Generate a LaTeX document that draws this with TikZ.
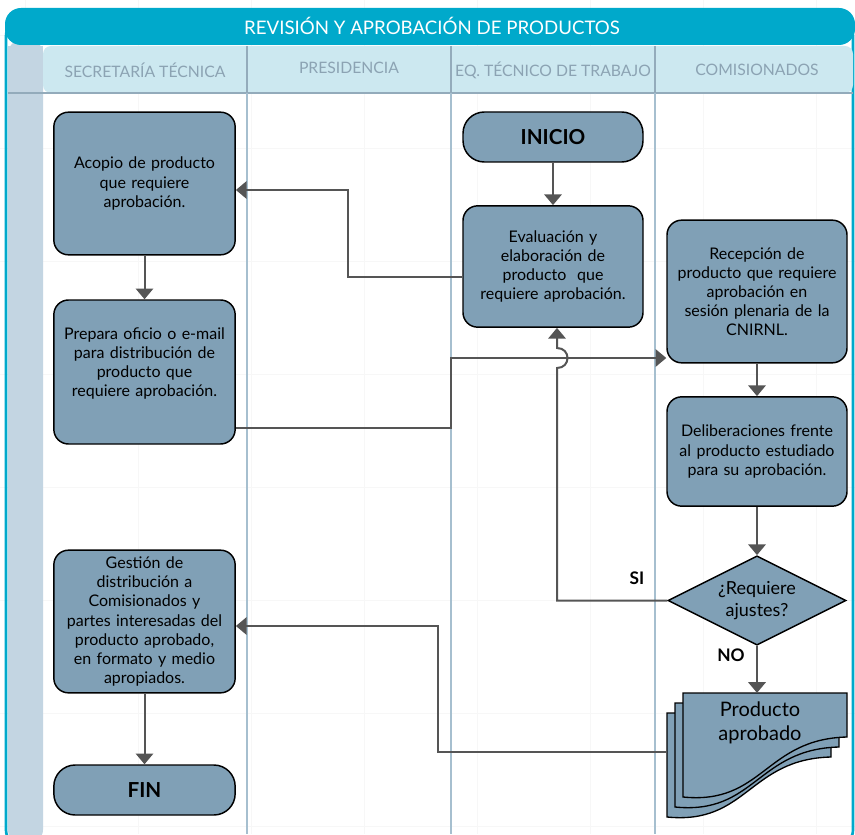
\documentclass[tikz,border=0pt]{standalone}
\usepackage{fontspec}
\setmainfont{Lato}
\usetikzlibrary{shapes.geometric,arrows.meta,calc}

\definecolor{bartitle}{HTML}{00A9CB}
\definecolor{headfill}{HTML}{CCE8F0}
\definecolor{stripfill}{HTML}{C3D5E2}
\definecolor{laneline}{HTML}{A6BFCF}
\definecolor{headline}{HTML}{93ABBB}
\definecolor{lanetext}{HTML}{8CA3B3}
\definecolor{boxfill}{HTML}{80A0B6}
\definecolor{flowgray}{HTML}{555555}
\definecolor{gridgray}{HTML}{F7F7F7}

\tikzset{
  proc/.style={draw=black, line width=1.1pt, fill=boxfill, rounded corners=11pt,
    align=center, inner sep=0pt, text width=132pt,
    font=\fontsize{12}{14.3}\selectfont},
  term/.style={proc, rounded corners=16pt, font=\fontsize{15.5}{17}\selectfont\bfseries},
  decision/.style={diamond, draw=black, line width=1.1pt, fill=boxfill, align=center,
    inner sep=0pt, shape aspect=2, font=\fontsize{13.5}{17}\selectfont},
  flow/.style={draw=flowgray, line width=1.5pt, -{Triangle[width=13pt,length=8pt]}},
  lanelabel/.style={text=lanetext, font=\fontsize{11.8}{13}\selectfont},
  sheet/.style={draw=black, line width=1pt, fill=boxfill},
  flag/.style={font=\fontsize{13}{15}\selectfont\bfseries},
}

\newcommand{\docsheet}[2]{%
  \draw[sheet] (#1,#2) -- ++(164,0) -- ++(0,44)
    .. controls ++(-82,2) and ++(80,8) .. ++(-164,60) -- cycle;}

\begin{document}
\begin{tikzpicture}[x=0.75pt,y=-0.75pt]
  \useasboundingbox (0,0) rectangle (855,834);
  \clip (0,0) rectangle (855,834);
  \fill[white] (0,0) rectangle (855,834);

  % faint page grid
  \foreach \g in {25,138,251,364,477,590,703,816}
    \draw[gridgray, line width=0.6pt] (\g,0) -- (\g,834);
  \foreach \g in {35,148,261,374,487,600,713,826}
    \draw[gridgray, line width=0.6pt] (0,\g) -- (855,\g);

  % frame, left strip and header row
  \draw[bartitle, line width=2pt, rounded corners=12pt] (6,20) rectangle (853,846);
  \fill[stripfill, rounded corners=10pt] (8,40) rectangle (43,843);
  \fill[headfill, rounded corners=6pt] (43,46) rectangle (853,93);
  \fill[stripfill] (8,46) rectangle (43,93);
  \draw[headline, line width=1.8pt] (8,93) -- (853,93);
  \foreach \lx in {247,451,655} {
    \draw[headline, line width=1pt] (\lx,46) -- (\lx,93);
    \draw[laneline, line width=1pt] (\lx,93) -- (\lx,834);
  }
  \fill[bartitle, rounded corners=12pt] (5,8) rectangle (855,45);
  \node[text=white, font=\fontsize{14}{16}\selectfont] (title) at (432,26)
    {REVISIÓN Y APROBACIÓN DE PRODUCTOS};

  % lane names
  \node[lanelabel] (lane1) at (145,70) {SECRETARÍA TÉCNICA};
  \node[lanelabel] (lane2) at (349,68) {PRESIDENCIA};
  \node[lanelabel] (lane3) at (553,70) {EQ. TÉCNICO DE TRABAJO};
  \node[lanelabel] (lane4) at (757,70) {COMISIONADOS};

  % process steps
  \node[proc, minimum width=136pt, minimum height=107pt] (acopio) at (144.5,183.5)
    {Acopio de producto\\ que requiere\\ aprobación.};
  \node[proc, minimum width=136pt, minimum height=108pt] (prepara) at (144.5,372)
    {Prepara oficio o e-mail\\ para distribución de\\ producto que\\ requiere aprobación.\\ \mbox{}};
  \node[proc, minimum width=136pt, minimum height=107pt] (gestion) at (144.5,621.5)
    {Gestión de\\ distribución a\\ Comisionados y\\ partes interesadas del\\ producto aprobado,\\ en formato y medio\\ apropiados.};
  \node[term, minimum width=136pt, minimum height=37.5pt] (fin) at (144.5,790) {FIN};
  \node[term, minimum width=135pt, minimum height=37.5pt] (inicio) at (553,137) {INICIO};
  \node[proc, minimum width=135pt, minimum height=91pt] (eval) at (553,266.5)
    {Evaluación y\\ elaboración de\\ producto\ \ que\\ requiere aprobación.};
  \node[proc, minimum width=135pt, minimum height=107pt] (recep) at (757,291.5)
    {Recepción de\\ producto que requiere\\ aprobación en\\ sesión plenaria de la\\ CNIRNL.};
  \node[proc, minimum width=135pt, minimum height=82pt] (delib) at (757,451.5)
    {Deliberaciones frente\\ al producto estudiado\\ para su aprobación.};
  \node[decision, minimum width=133.5pt, minimum height=67pt] (dec) at (757,600.5)
    {¿Requiere\\ ajustes?};

  % stacked document
  \docsheet{667}{713}
  \docsheet{675}{703}
  \docsheet{683}{693}
  \node[inner sep=0pt, minimum width=135pt, minimum height=92pt] (stack) at (757,754.5) {};
  \node[align=center, font=\fontsize{15}{17.5}\selectfont] (prod) at (760,723)
    {Producto\\ aprobado};

  % connectors
  \draw[flow] (inicio.south) -- (eval.north);
  \draw[flow] (eval.west |- 0,277) -| (348,190) -- (acopio.east |- 0,190);
  \draw[flow] (acopio.south) -- (prepara.north);
  \draw[flow] (prepara.east |- 0,428) -| (451,358) -- (recep.west |- 0,358);
  \draw[flow] (recep.south) -- (delib.north);
  \draw[flow] (delib.south) -- (dec.north);
  \draw[flow] (dec.west) -- (557,600.5) -- (557,368)
    .. controls (571,368) and (571,348) .. (557,348) -- (557,0 |- eval.south);
  \draw[flow] (dec.south) -- (stack.north);
  \draw[flow] (stack.west |- 0,752) -| (438,626) -- (gestion.east |- 0,626);
  \draw[flow] (gestion.south) -- (fin.north);

  % branch labels
  \node[flag] (si) at (637,578) {SI};
  \node[flag] (no) at (731,655) {NO};
\end{tikzpicture}
\end{document}
